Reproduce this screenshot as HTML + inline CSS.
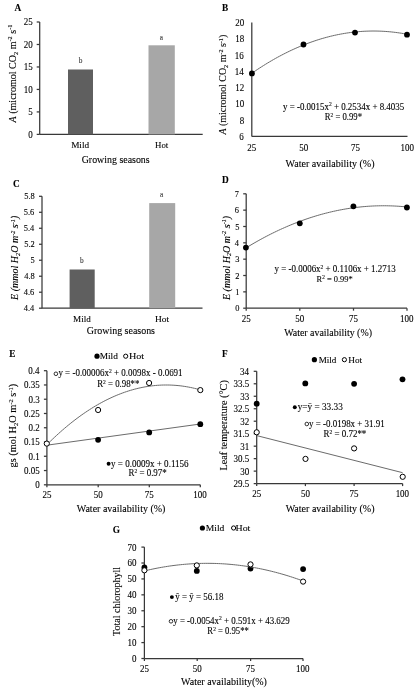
<!DOCTYPE html>
<html><head><meta charset="utf-8"><style>
html,body{margin:0;padding:0;background:#fff;width:418px;height:691px;overflow:hidden}
svg{display:block}
</style></head><body><svg width="418" height="691" viewBox="0 0 418 691"><defs><filter id="bl" x="0" y="0" width="100%" height="100%" filterUnits="userSpaceOnUse"><feGaussianBlur stdDeviation="0.3"/></filter></defs><g filter="url(#bl)"><rect x="0" y="0" width="418" height="691" fill="#fff"/><line x1="39.70" y1="22.00" x2="39.70" y2="134.40" stroke="#383838" stroke-width="1.25"/><line x1="36.70" y1="22.00" x2="39.70" y2="22.00" stroke="#383838" stroke-width="1.25"/><line x1="36.70" y1="44.48" x2="39.70" y2="44.48" stroke="#383838" stroke-width="1.25"/><line x1="36.70" y1="66.96" x2="39.70" y2="66.96" stroke="#383838" stroke-width="1.25"/><line x1="36.70" y1="89.44" x2="39.70" y2="89.44" stroke="#383838" stroke-width="1.25"/><line x1="36.70" y1="111.92" x2="39.70" y2="111.92" stroke="#383838" stroke-width="1.25"/><line x1="36.70" y1="134.40" x2="39.70" y2="134.40" stroke="#383838" stroke-width="1.25"/><line x1="39.70" y1="134.40" x2="202.70" y2="134.40" stroke="#383838" stroke-width="1.25"/><rect x="68.00" y="69.50" width="25.00" height="64.90" fill="#5e5e5e"/><rect x="148.50" y="45.30" width="26.30" height="89.10" fill="#a7a7a7"/><line x1="251.80" y1="22.60" x2="251.80" y2="136.40" stroke="#383838" stroke-width="1.25"/><line x1="251.80" y1="136.40" x2="407.50" y2="136.40" stroke="#383838" stroke-width="1.25"/><path d="M251.80,73.29 L253.77,71.94 L255.74,70.60 L257.71,69.29 L259.68,67.99 L261.65,66.73 L263.63,65.48 L265.60,64.25 L267.57,63.05 L269.54,61.87 L271.51,60.71 L273.48,59.57 L275.45,58.46 L277.42,57.37 L279.39,56.30 L281.36,55.25 L283.33,54.22 L285.31,53.22 L287.28,52.24 L289.25,51.28 L291.22,50.34 L293.19,49.43 L295.16,48.54 L297.13,47.67 L299.10,46.82 L301.07,45.99 L303.04,45.19 L305.01,44.41 L306.98,43.65 L308.96,42.91 L310.93,42.20 L312.90,41.50 L314.87,40.83 L316.84,40.18 L318.81,39.56 L320.78,38.95 L322.75,38.37 L324.72,37.81 L326.69,37.27 L328.66,36.76 L330.64,36.26 L332.61,35.79 L334.58,35.34 L336.55,34.92 L338.52,34.51 L340.49,34.13 L342.46,33.77 L344.43,33.43 L346.40,33.12 L348.37,32.82 L350.34,32.55 L352.32,32.30 L354.29,32.07 L356.26,31.87 L358.23,31.69 L360.20,31.53 L362.17,31.39 L364.14,31.27 L366.11,31.18 L368.08,31.11 L370.05,31.06 L372.02,31.03 L373.99,31.02 L375.97,31.04 L377.94,31.08 L379.91,31.14 L381.88,31.22 L383.85,31.33 L385.82,31.46 L387.79,31.61 L389.76,31.78 L391.73,31.97 L393.70,32.19 L395.67,32.43 L397.65,32.69 L399.62,32.97 L401.59,33.28 L403.56,33.60 L405.53,33.95 L407.50,34.33" fill="none" stroke="#6b6b6b" stroke-width="1.0"/><circle cx="251.90" cy="73.40" r="2.9" fill="#000"/><circle cx="303.50" cy="44.50" r="2.9" fill="#000"/><circle cx="355.00" cy="32.60" r="2.9" fill="#000"/><circle cx="407.00" cy="34.70" r="2.9" fill="#000"/><line x1="42.00" y1="196.30" x2="42.00" y2="308.20" stroke="#383838" stroke-width="1.25"/><line x1="39.00" y1="196.30" x2="42.00" y2="196.30" stroke="#383838" stroke-width="1.25"/><line x1="39.00" y1="212.29" x2="42.00" y2="212.29" stroke="#383838" stroke-width="1.25"/><line x1="39.00" y1="228.27" x2="42.00" y2="228.27" stroke="#383838" stroke-width="1.25"/><line x1="39.00" y1="244.26" x2="42.00" y2="244.26" stroke="#383838" stroke-width="1.25"/><line x1="39.00" y1="260.24" x2="42.00" y2="260.24" stroke="#383838" stroke-width="1.25"/><line x1="39.00" y1="276.23" x2="42.00" y2="276.23" stroke="#383838" stroke-width="1.25"/><line x1="39.00" y1="292.21" x2="42.00" y2="292.21" stroke="#383838" stroke-width="1.25"/><line x1="39.00" y1="308.20" x2="42.00" y2="308.20" stroke="#383838" stroke-width="1.25"/><line x1="42.00" y1="308.20" x2="202.50" y2="308.20" stroke="#383838" stroke-width="1.25"/><rect x="69.60" y="269.50" width="25.10" height="38.70" fill="#5e5e5e"/><rect x="149.20" y="203.10" width="26.00" height="105.10" fill="#a7a7a7"/><line x1="246.20" y1="193.80" x2="246.20" y2="308.20" stroke="#383838" stroke-width="1.25"/><line x1="243.20" y1="193.80" x2="246.20" y2="193.80" stroke="#383838" stroke-width="1.25"/><line x1="243.20" y1="210.14" x2="246.20" y2="210.14" stroke="#383838" stroke-width="1.25"/><line x1="243.20" y1="226.49" x2="246.20" y2="226.49" stroke="#383838" stroke-width="1.25"/><line x1="243.20" y1="242.83" x2="246.20" y2="242.83" stroke="#383838" stroke-width="1.25"/><line x1="243.20" y1="259.17" x2="246.20" y2="259.17" stroke="#383838" stroke-width="1.25"/><line x1="243.20" y1="275.51" x2="246.20" y2="275.51" stroke="#383838" stroke-width="1.25"/><line x1="243.20" y1="291.86" x2="246.20" y2="291.86" stroke="#383838" stroke-width="1.25"/><line x1="243.20" y1="308.20" x2="246.20" y2="308.20" stroke="#383838" stroke-width="1.25"/><line x1="246.20" y1="308.20" x2="407.00" y2="308.20" stroke="#383838" stroke-width="1.25"/><line x1="246.20" y1="308.20" x2="246.20" y2="310.70" stroke="#383838" stroke-width="1.25"/><line x1="299.80" y1="308.20" x2="299.80" y2="310.70" stroke="#383838" stroke-width="1.25"/><line x1="353.50" y1="308.20" x2="353.50" y2="310.70" stroke="#383838" stroke-width="1.25"/><line x1="407.00" y1="308.20" x2="407.00" y2="310.70" stroke="#383838" stroke-width="1.25"/><path d="M245.90,247.96 L247.94,246.72 L249.98,245.50 L252.02,244.30 L254.06,243.11 L256.10,241.94 L258.14,240.80 L260.17,239.67 L262.21,238.55 L264.25,237.46 L266.29,236.39 L268.33,235.33 L270.37,234.29 L272.41,233.28 L274.45,232.28 L276.49,231.29 L278.53,230.33 L280.57,229.39 L282.61,228.46 L284.65,227.55 L286.68,226.66 L288.72,225.79 L290.76,224.94 L292.80,224.11 L294.84,223.29 L296.88,222.49 L298.92,221.72 L300.96,220.96 L303.00,220.22 L305.04,219.49 L307.08,218.79 L309.12,218.10 L311.16,217.44 L313.19,216.79 L315.23,216.16 L317.27,215.55 L319.31,214.95 L321.35,214.38 L323.39,213.82 L325.43,213.29 L327.47,212.77 L329.51,212.27 L331.55,211.79 L333.59,211.32 L335.63,210.88 L337.67,210.45 L339.71,210.04 L341.74,209.66 L343.78,209.29 L345.82,208.93 L347.86,208.60 L349.90,208.28 L351.94,207.99 L353.98,207.71 L356.02,207.45 L358.06,207.21 L360.10,206.99 L362.14,206.78 L364.18,206.60 L366.22,206.43 L368.25,206.28 L370.29,206.15 L372.33,206.04 L374.37,205.95 L376.41,205.87 L378.45,205.82 L380.49,205.78 L382.53,205.76 L384.57,205.76 L386.61,205.78 L388.65,205.82 L390.69,205.87 L392.73,205.95 L394.76,206.04 L396.80,206.15 L398.84,206.28 L400.88,206.43 L402.92,206.59 L404.96,206.78 L407.00,206.98" fill="none" stroke="#6b6b6b" stroke-width="1.0"/><circle cx="245.90" cy="247.60" r="2.9" fill="#000"/><circle cx="299.80" cy="223.30" r="2.9" fill="#000"/><circle cx="353.40" cy="206.30" r="2.9" fill="#000"/><circle cx="406.90" cy="207.50" r="2.9" fill="#000"/><line x1="46.90" y1="370.70" x2="46.90" y2="484.80" stroke="#383838" stroke-width="1.25"/><line x1="43.90" y1="370.70" x2="46.90" y2="370.70" stroke="#383838" stroke-width="1.25"/><line x1="43.90" y1="384.96" x2="46.90" y2="384.96" stroke="#383838" stroke-width="1.25"/><line x1="43.90" y1="399.23" x2="46.90" y2="399.23" stroke="#383838" stroke-width="1.25"/><line x1="43.90" y1="413.49" x2="46.90" y2="413.49" stroke="#383838" stroke-width="1.25"/><line x1="43.90" y1="427.75" x2="46.90" y2="427.75" stroke="#383838" stroke-width="1.25"/><line x1="43.90" y1="442.01" x2="46.90" y2="442.01" stroke="#383838" stroke-width="1.25"/><line x1="43.90" y1="456.27" x2="46.90" y2="456.27" stroke="#383838" stroke-width="1.25"/><line x1="43.90" y1="470.54" x2="46.90" y2="470.54" stroke="#383838" stroke-width="1.25"/><line x1="43.90" y1="484.80" x2="46.90" y2="484.80" stroke="#383838" stroke-width="1.25"/><line x1="46.90" y1="484.80" x2="200.30" y2="484.80" stroke="#383838" stroke-width="1.25"/><line x1="46.90" y1="484.80" x2="46.90" y2="487.30" stroke="#383838" stroke-width="1.25"/><line x1="98.20" y1="484.80" x2="98.20" y2="487.30" stroke="#383838" stroke-width="1.25"/><line x1="149.30" y1="484.80" x2="149.30" y2="487.30" stroke="#383838" stroke-width="1.25"/><line x1="200.30" y1="484.80" x2="200.30" y2="487.30" stroke="#383838" stroke-width="1.25"/><circle cx="97.00" cy="356.20" r="2.6" fill="#000"/><circle cx="125.70" cy="356.20" r="2.1" fill="#fff" stroke="#000" stroke-width="1.0"/><path d="M46.90,445.20 L200.30,424.00" fill="none" stroke="#6b6b6b" stroke-width="1.0"/><circle cx="98.10" cy="439.80" r="2.9" fill="#000"/><circle cx="149.20" cy="432.40" r="2.9" fill="#000"/><circle cx="200.30" cy="424.20" r="2.9" fill="#000"/><path d="M46.90,444.68 L48.84,442.75 L50.78,440.86 L52.73,438.99 L54.67,437.16 L56.61,435.36 L58.55,433.60 L60.49,431.86 L62.43,430.15 L64.38,428.48 L66.32,426.84 L68.26,425.23 L70.20,423.65 L72.14,422.10 L74.08,420.59 L76.03,419.10 L77.97,417.65 L79.91,416.23 L81.85,414.84 L83.79,413.48 L85.74,412.16 L87.68,410.86 L89.62,409.60 L91.56,408.37 L93.50,407.17 L95.44,406.00 L97.39,404.87 L99.33,403.76 L101.27,402.69 L103.21,401.65 L105.15,400.64 L107.09,399.66 L109.04,398.71 L110.98,397.80 L112.92,396.91 L114.86,396.06 L116.80,395.24 L118.75,394.45 L120.69,393.69 L122.63,392.97 L124.57,392.28 L126.51,391.61 L128.45,390.98 L130.40,390.38 L132.34,389.82 L134.28,389.28 L136.22,388.78 L138.16,388.30 L140.11,387.86 L142.05,387.45 L143.99,387.07 L145.93,386.73 L147.87,386.41 L149.81,386.13 L151.76,385.88 L153.70,385.66 L155.64,385.47 L157.58,385.31 L159.52,385.19 L161.46,385.09 L163.41,385.03 L165.35,385.00 L167.29,385.00 L169.23,385.03 L171.17,385.10 L173.12,385.19 L175.06,385.32 L177.00,385.48 L178.94,385.67 L180.88,385.89 L182.82,386.15 L184.77,386.43 L186.71,386.75 L188.65,387.10 L190.59,387.48 L192.53,387.89 L194.47,388.34 L196.42,388.81 L198.36,389.32 L200.30,389.86" fill="none" stroke="#6b6b6b" stroke-width="1.0"/><circle cx="46.80" cy="443.60" r="2.6" fill="#fff" stroke="#000" stroke-width="1.0"/><circle cx="98.10" cy="410.00" r="2.6" fill="#fff" stroke="#000" stroke-width="1.0"/><circle cx="149.10" cy="383.00" r="2.6" fill="#fff" stroke="#000" stroke-width="1.0"/><circle cx="200.30" cy="390.10" r="2.6" fill="#fff" stroke="#000" stroke-width="1.0"/><circle cx="55.90" cy="373.80" r="1.8" fill="#fff" stroke="#000" stroke-width="0.8"/><circle cx="108.60" cy="463.80" r="1.95" fill="#000"/><line x1="256.70" y1="371.30" x2="256.70" y2="483.60" stroke="#383838" stroke-width="1.25"/><line x1="253.70" y1="371.30" x2="256.70" y2="371.30" stroke="#383838" stroke-width="1.25"/><line x1="253.70" y1="383.78" x2="256.70" y2="383.78" stroke="#383838" stroke-width="1.25"/><line x1="253.70" y1="396.26" x2="256.70" y2="396.26" stroke="#383838" stroke-width="1.25"/><line x1="253.70" y1="408.73" x2="256.70" y2="408.73" stroke="#383838" stroke-width="1.25"/><line x1="253.70" y1="421.21" x2="256.70" y2="421.21" stroke="#383838" stroke-width="1.25"/><line x1="253.70" y1="433.69" x2="256.70" y2="433.69" stroke="#383838" stroke-width="1.25"/><line x1="253.70" y1="446.17" x2="256.70" y2="446.17" stroke="#383838" stroke-width="1.25"/><line x1="253.70" y1="458.64" x2="256.70" y2="458.64" stroke="#383838" stroke-width="1.25"/><line x1="253.70" y1="471.12" x2="256.70" y2="471.12" stroke="#383838" stroke-width="1.25"/><line x1="253.70" y1="483.60" x2="256.70" y2="483.60" stroke="#383838" stroke-width="1.25"/><line x1="256.70" y1="483.60" x2="402.60" y2="483.60" stroke="#383838" stroke-width="1.25"/><line x1="256.70" y1="483.60" x2="256.70" y2="486.10" stroke="#383838" stroke-width="1.25"/><line x1="305.40" y1="483.60" x2="305.40" y2="486.10" stroke="#383838" stroke-width="1.25"/><line x1="354.10" y1="483.60" x2="354.10" y2="486.10" stroke="#383838" stroke-width="1.25"/><line x1="402.60" y1="483.60" x2="402.60" y2="486.10" stroke="#383838" stroke-width="1.25"/><circle cx="314.40" cy="359.70" r="2.6" fill="#000"/><circle cx="344.40" cy="359.70" r="2.1" fill="#fff" stroke="#000" stroke-width="1.0"/><circle cx="256.70" cy="403.70" r="2.9" fill="#000"/><circle cx="305.30" cy="383.40" r="2.9" fill="#000"/><circle cx="354.10" cy="383.80" r="2.9" fill="#000"/><circle cx="402.50" cy="379.30" r="2.9" fill="#000"/><path d="M256.70,435.60 L402.60,472.70" fill="none" stroke="#6b6b6b" stroke-width="1.0"/><circle cx="256.70" cy="432.30" r="2.6" fill="#fff" stroke="#000" stroke-width="1.0"/><circle cx="305.50" cy="458.90" r="2.6" fill="#fff" stroke="#000" stroke-width="1.0"/><circle cx="354.10" cy="448.40" r="2.6" fill="#fff" stroke="#000" stroke-width="1.0"/><circle cx="402.70" cy="476.80" r="2.6" fill="#fff" stroke="#000" stroke-width="1.0"/><circle cx="294.80" cy="407.30" r="1.95" fill="#000"/><circle cx="306.80" cy="424.00" r="1.8" fill="#fff" stroke="#000" stroke-width="0.8"/><line x1="144.40" y1="547.10" x2="144.40" y2="658.50" stroke="#383838" stroke-width="1.25"/><line x1="141.40" y1="547.10" x2="144.40" y2="547.10" stroke="#383838" stroke-width="1.25"/><line x1="141.40" y1="563.01" x2="144.40" y2="563.01" stroke="#383838" stroke-width="1.25"/><line x1="141.40" y1="578.93" x2="144.40" y2="578.93" stroke="#383838" stroke-width="1.25"/><line x1="141.40" y1="594.84" x2="144.40" y2="594.84" stroke="#383838" stroke-width="1.25"/><line x1="141.40" y1="610.76" x2="144.40" y2="610.76" stroke="#383838" stroke-width="1.25"/><line x1="141.40" y1="626.67" x2="144.40" y2="626.67" stroke="#383838" stroke-width="1.25"/><line x1="141.40" y1="642.59" x2="144.40" y2="642.59" stroke="#383838" stroke-width="1.25"/><line x1="141.40" y1="658.50" x2="144.40" y2="658.50" stroke="#383838" stroke-width="1.25"/><line x1="144.40" y1="658.50" x2="303.00" y2="658.50" stroke="#383838" stroke-width="1.25"/><line x1="144.40" y1="658.50" x2="144.40" y2="661.00" stroke="#383838" stroke-width="1.25"/><line x1="197.20" y1="658.50" x2="197.20" y2="661.00" stroke="#383838" stroke-width="1.25"/><line x1="250.60" y1="658.50" x2="250.60" y2="661.00" stroke="#383838" stroke-width="1.25"/><line x1="303.00" y1="658.50" x2="303.00" y2="661.00" stroke="#383838" stroke-width="1.25"/><circle cx="202.40" cy="528.00" r="2.6" fill="#000"/><circle cx="233.60" cy="528.00" r="2.1" fill="#fff" stroke="#000" stroke-width="1.0"/><circle cx="144.40" cy="567.40" r="2.9" fill="#000"/><circle cx="196.80" cy="570.90" r="2.9" fill="#000"/><circle cx="250.50" cy="568.60" r="2.9" fill="#000"/><circle cx="303.10" cy="569.10" r="2.9" fill="#000"/><path d="M144.40,570.93 L146.51,570.42 L148.63,569.94 L150.74,569.47 L152.86,569.02 L154.97,568.59 L157.09,568.17 L159.20,567.77 L161.32,567.39 L163.43,567.02 L165.55,566.68 L167.66,566.35 L169.78,566.03 L171.89,565.74 L174.01,565.46 L176.12,565.20 L178.23,564.95 L180.35,564.72 L182.46,564.51 L184.58,564.32 L186.69,564.15 L188.81,563.99 L190.92,563.85 L193.04,563.72 L195.15,563.61 L197.27,563.53 L199.38,563.45 L201.50,563.40 L203.61,563.36 L205.73,563.34 L207.84,563.33 L209.95,563.35 L212.07,563.38 L214.18,563.43 L216.30,563.49 L218.41,563.57 L220.53,563.67 L222.64,563.79 L224.76,563.92 L226.87,564.07 L228.99,564.24 L231.10,564.43 L233.22,564.63 L235.33,564.85 L237.45,565.09 L239.56,565.34 L241.67,565.61 L243.79,565.90 L245.90,566.20 L248.02,566.53 L250.13,566.87 L252.25,567.22 L254.36,567.60 L256.48,567.99 L258.59,568.40 L260.71,568.82 L262.82,569.27 L264.94,569.73 L267.05,570.21 L269.17,570.70 L271.28,571.21 L273.39,571.74 L275.51,572.29 L277.62,572.85 L279.74,573.43 L281.85,574.03 L283.97,574.64 L286.08,575.28 L288.20,575.92 L290.31,576.59 L292.43,577.28 L294.54,577.98 L296.66,578.69 L298.77,579.43 L300.89,580.18 L303.00,580.95" fill="none" stroke="#6b6b6b" stroke-width="1.0"/><circle cx="144.40" cy="570.30" r="2.6" fill="#fff" stroke="#000" stroke-width="1.0"/><circle cx="196.80" cy="565.40" r="2.6" fill="#fff" stroke="#000" stroke-width="1.0"/><circle cx="250.50" cy="564.40" r="2.6" fill="#fff" stroke="#000" stroke-width="1.0"/><circle cx="303.10" cy="581.60" r="2.6" fill="#fff" stroke="#000" stroke-width="1.0"/><circle cx="171.90" cy="597.10" r="1.95" fill="#000"/><circle cx="171.00" cy="621.30" r="1.8" fill="#fff" stroke="#000" stroke-width="0.8"/><text x="14.400" y="10.500" font-family='"Liberation Serif", serif' font-size="9.300" font-weight="bold" fill="#000" stroke="#000" stroke-width="0.1"><tspan font-size="9.300">A</tspan></text><g transform="translate(23.650,25.402) scale(1.0000,1.0800)"><text x="0.000" y="0.000" font-family='"Liberation Serif", serif' font-size="9.000" fill="#000" stroke="#000" stroke-width="0.1"><tspan font-size="9.000">25</tspan></text></g><g transform="translate(23.650,47.882) scale(1.0000,1.0800)"><text x="0.000" y="0.000" font-family='"Liberation Serif", serif' font-size="9.000" fill="#000" stroke="#000" stroke-width="0.1"><tspan font-size="9.000">20</tspan></text></g><g transform="translate(23.650,70.362) scale(1.0000,1.0800)"><text x="0.000" y="0.000" font-family='"Liberation Serif", serif' font-size="9.000" fill="#000" stroke="#000" stroke-width="0.1"><tspan font-size="9.000">15</tspan></text></g><g transform="translate(23.650,92.842) scale(1.0000,1.0800)"><text x="0.000" y="0.000" font-family='"Liberation Serif", serif' font-size="9.000" fill="#000" stroke="#000" stroke-width="0.1"><tspan font-size="9.000">10</tspan></text></g><g transform="translate(28.150,115.322) scale(1.0000,1.0800)"><text x="0.000" y="0.000" font-family='"Liberation Serif", serif' font-size="9.000" fill="#000" stroke="#000" stroke-width="0.1"><tspan font-size="9.000">5</tspan></text></g><g transform="translate(28.150,137.802) scale(1.0000,1.0800)"><text x="0.000" y="0.000" font-family='"Liberation Serif", serif' font-size="9.000" fill="#000" stroke="#000" stroke-width="0.1"><tspan font-size="9.000">0</tspan></text></g><text x="78.775" y="63.000" font-family='"Liberation Serif", serif' font-size="7.300" fill="#3a3a3a" stroke="#3a3a3a" stroke-width="0.1"><tspan font-size="7.300">b</tspan></text><text x="159.757" y="39.600" font-family='"Liberation Serif", serif' font-size="7.300" fill="#3a3a3a" stroke="#3a3a3a" stroke-width="0.1"><tspan font-size="7.300">a</tspan></text><g transform="translate(71.137,148.000) scale(1.0408,1.0000)"><text x="0.000" y="0.000" font-family='"Liberation Serif", serif' font-size="8.900" fill="#000" stroke="#000" stroke-width="0.1"><tspan font-size="8.900">Mild</tspan></text></g><g transform="translate(155.059,148.000) scale(0.9919,1.0000)"><text x="0.000" y="0.000" font-family='"Liberation Serif", serif' font-size="8.900" fill="#000" stroke="#000" stroke-width="0.1"><tspan font-size="8.900">Hot</tspan></text></g><text x="81.704" y="163.300" font-family='"Liberation Serif", serif' font-size="9.926" fill="#000" stroke="#000" stroke-width="0.1"><tspan font-size="9.926">Growing seasons</tspan></text><text x="0" y="0" transform="translate(15.600,122.497) rotate(-90) scale(1,1.120)" font-family='"Liberation Serif", serif' font-size="10.062" fill="#000" stroke="#000" stroke-width="0.1"><tspan font-size="10.062" font-style="italic">A</tspan><tspan font-size="10.062"> (micromol CO</tspan><tspan font-size="6.238" dy="1.811">2</tspan><tspan font-size="10.062" dy="-1.811"> m</tspan><tspan font-size="6.238" dy="-3.320">-2</tspan><tspan font-size="10.062" dy="3.320"> s</tspan><tspan font-size="6.238" dy="-3.320">-1</tspan></text><text x="222.000" y="10.900" font-family='"Liberation Serif", serif' font-size="9.300" font-weight="bold" fill="#000" stroke="#000" stroke-width="0.1"><tspan font-size="9.300">B</tspan></text><g transform="translate(235.250,26.002) scale(1.0000,1.0800)"><text x="0.000" y="0.000" font-family='"Liberation Serif", serif' font-size="9.000" fill="#000" stroke="#000" stroke-width="0.1"><tspan font-size="9.000">20</tspan></text></g><g transform="translate(235.250,42.259) scale(1.0000,1.0800)"><text x="0.000" y="0.000" font-family='"Liberation Serif", serif' font-size="9.000" fill="#000" stroke="#000" stroke-width="0.1"><tspan font-size="9.000">18</tspan></text></g><g transform="translate(234.800,58.516) scale(1.0000,1.0800)"><text x="0.000" y="0.000" font-family='"Liberation Serif", serif' font-size="9.000" fill="#000" stroke="#000" stroke-width="0.1"><tspan font-size="9.000">16</tspan></text></g><g transform="translate(234.800,74.773) scale(1.0000,1.0800)"><text x="0.000" y="0.000" font-family='"Liberation Serif", serif' font-size="9.000" fill="#000" stroke="#000" stroke-width="0.1"><tspan font-size="9.000">14</tspan></text></g><g transform="translate(235.250,91.031) scale(1.0000,1.0800)"><text x="0.000" y="0.000" font-family='"Liberation Serif", serif' font-size="9.000" fill="#000" stroke="#000" stroke-width="0.1"><tspan font-size="9.000">12</tspan></text></g><g transform="translate(235.250,107.288) scale(1.0000,1.0800)"><text x="0.000" y="0.000" font-family='"Liberation Serif", serif' font-size="9.000" fill="#000" stroke="#000" stroke-width="0.1"><tspan font-size="9.000">10</tspan></text></g><g transform="translate(239.750,123.545) scale(1.0000,1.0800)"><text x="0.000" y="0.000" font-family='"Liberation Serif", serif' font-size="9.000" fill="#000" stroke="#000" stroke-width="0.1"><tspan font-size="9.000">8</tspan></text></g><g transform="translate(239.300,139.802) scale(1.0000,1.0800)"><text x="0.000" y="0.000" font-family='"Liberation Serif", serif' font-size="9.000" fill="#000" stroke="#000" stroke-width="0.1"><tspan font-size="9.000">6</tspan></text></g><g transform="translate(247.300,151.002) scale(1.0000,1.0800)"><text x="0.000" y="0.000" font-family='"Liberation Serif", serif' font-size="9.000" fill="#000" stroke="#000" stroke-width="0.1"><tspan font-size="9.000">25</tspan></text></g><g transform="translate(299.200,151.002) scale(1.0000,1.0800)"><text x="0.000" y="0.000" font-family='"Liberation Serif", serif' font-size="9.000" fill="#000" stroke="#000" stroke-width="0.1"><tspan font-size="9.000">50</tspan></text></g><g transform="translate(351.100,151.002) scale(1.0000,1.0800)"><text x="0.000" y="0.000" font-family='"Liberation Serif", serif' font-size="9.000" fill="#000" stroke="#000" stroke-width="0.1"><tspan font-size="9.000">75</tspan></text></g><g transform="translate(400.525,151.002) scale(1.0000,1.0800)"><text x="0.000" y="0.000" font-family='"Liberation Serif", serif' font-size="9.000" fill="#000" stroke="#000" stroke-width="0.1"><tspan font-size="9.000">100</tspan></text></g><text x="285.500" y="166.500" font-family='"Liberation Serif", serif' font-size="10.057" fill="#000" stroke="#000" stroke-width="0.1"><tspan font-size="10.057">Water availability (%)</tspan></text><g transform="translate(283.000,109.700) scale(1.0000,1.1000)"><text x="0.000" y="0.000" font-family='"Liberation Serif", serif' font-size="8.930" fill="#000" stroke="#000" stroke-width="0.1"><tspan font-size="8.930">y = -0.0015x</tspan><tspan font-size="5.537" dy="-2.947">2</tspan><tspan font-size="8.930" dy="2.947"> + 0.2534x + 8.4035</tspan></text></g><g transform="translate(324.765,119.800) scale(1.0000,1.1000)"><text x="0.000" y="0.000" font-family='"Liberation Serif", serif' font-size="8.690" fill="#000" stroke="#000" stroke-width="0.1"><tspan font-size="8.690">R</tspan><tspan font-size="5.388" dy="-2.868">2</tspan><tspan font-size="8.690" dy="2.868"> = 0.99*</tspan></text></g><text x="0" y="0" transform="translate(226.300,134.504) rotate(-90)" font-family='"Liberation Serif", serif' font-size="9.921" fill="#000" stroke="#000" stroke-width="0.1"><tspan font-size="9.921" font-style="italic">A</tspan><tspan font-size="9.921"> (micromol CO</tspan><tspan font-size="6.151" dy="1.786">2</tspan><tspan font-size="9.921" dy="-1.786"> m</tspan><tspan font-size="6.151" dy="-3.274">-2</tspan><tspan font-size="9.921" dy="3.274"> s</tspan><tspan font-size="6.151" dy="-3.274">-1</tspan><tspan font-size="9.921" dy="3.274">)</tspan></text><text x="12.935" y="187.100" font-family='"Liberation Serif", serif' font-size="9.300" font-weight="bold" fill="#000" stroke="#000" stroke-width="0.1"><tspan font-size="9.300">C</tspan></text><g transform="translate(24.220,199.475) scale(1.0000,1.0800)"><text x="0.000" y="0.000" font-family='"Liberation Serif", serif' font-size="8.400" fill="#000" stroke="#000" stroke-width="0.1"><tspan font-size="8.400">5.8</tspan></text></g><g transform="translate(23.800,215.461) scale(1.0000,1.0800)"><text x="0.000" y="0.000" font-family='"Liberation Serif", serif' font-size="8.400" fill="#000" stroke="#000" stroke-width="0.1"><tspan font-size="8.400">5.6</tspan></text></g><g transform="translate(23.800,231.447) scale(1.0000,1.0800)"><text x="0.000" y="0.000" font-family='"Liberation Serif", serif' font-size="8.400" fill="#000" stroke="#000" stroke-width="0.1"><tspan font-size="8.400">5.4</tspan></text></g><g transform="translate(24.220,247.432) scale(1.0000,1.0800)"><text x="0.000" y="0.000" font-family='"Liberation Serif", serif' font-size="8.400" fill="#000" stroke="#000" stroke-width="0.1"><tspan font-size="8.400">5.2</tspan></text></g><g transform="translate(30.520,263.418) scale(1.0000,1.0800)"><text x="0.000" y="0.000" font-family='"Liberation Serif", serif' font-size="8.400" fill="#000" stroke="#000" stroke-width="0.1"><tspan font-size="8.400">5</tspan></text></g><g transform="translate(24.220,279.404) scale(1.0000,1.0800)"><text x="0.000" y="0.000" font-family='"Liberation Serif", serif' font-size="8.400" fill="#000" stroke="#000" stroke-width="0.1"><tspan font-size="8.400">4.8</tspan></text></g><g transform="translate(23.800,295.389) scale(1.0000,1.0800)"><text x="0.000" y="0.000" font-family='"Liberation Serif", serif' font-size="8.400" fill="#000" stroke="#000" stroke-width="0.1"><tspan font-size="8.400">4.6</tspan></text></g><g transform="translate(23.800,311.375) scale(1.0000,1.0800)"><text x="0.000" y="0.000" font-family='"Liberation Serif", serif' font-size="8.400" fill="#000" stroke="#000" stroke-width="0.1"><tspan font-size="8.400">4.4</tspan></text></g><text x="79.975" y="262.500" font-family='"Liberation Serif", serif' font-size="7.300" fill="#3a3a3a" stroke="#3a3a3a" stroke-width="0.1"><tspan font-size="7.300">b</tspan></text><text x="160.057" y="197.200" font-family='"Liberation Serif", serif' font-size="7.300" fill="#3a3a3a" stroke="#3a3a3a" stroke-width="0.1"><tspan font-size="7.300">a</tspan></text><g transform="translate(73.045,322.000) scale(1.0231,1.0000)"><text x="0.000" y="0.000" font-family='"Liberation Serif", serif' font-size="8.900" fill="#000" stroke="#000" stroke-width="0.1"><tspan font-size="8.900">Mild</tspan></text></g><g transform="translate(155.028,322.000) scale(1.0616,1.0000)"><text x="0.000" y="0.000" font-family='"Liberation Serif", serif' font-size="8.900" fill="#000" stroke="#000" stroke-width="0.1"><tspan font-size="8.900">Hot</tspan></text></g><text x="86.803" y="333.500" font-family='"Liberation Serif", serif' font-size="9.941" fill="#000" stroke="#000" stroke-width="0.1"><tspan font-size="9.941">Growing seasons</tspan></text><text x="0" y="0" transform="translate(18.400,300.000) rotate(-90)" font-family='"Liberation Serif", serif' font-size="10.048" font-style="italic" fill="#000" stroke="#000" stroke-width="0.1"><tspan font-size="10.048">E (mmol H</tspan><tspan font-size="6.230" dy="1.809">2</tspan><tspan font-size="10.048" dy="-1.809">O m</tspan><tspan font-size="6.230" dy="-3.316">-2</tspan><tspan font-size="10.048" dy="3.316"> s</tspan><tspan font-size="6.230" dy="-3.316">-1</tspan><tspan font-size="10.048" dy="3.316">)</tspan></text><text x="222.000" y="183.400" font-family='"Liberation Serif", serif' font-size="9.300" font-weight="bold" fill="#000" stroke="#000" stroke-width="0.1"><tspan font-size="9.300">D</tspan></text><g transform="translate(234.800,196.975) scale(1.0000,1.0800)"><text x="0.000" y="0.000" font-family='"Liberation Serif", serif' font-size="8.400" fill="#000" stroke="#000" stroke-width="0.1"><tspan font-size="8.400">7</tspan></text></g><g transform="translate(234.800,213.318) scale(1.0000,1.0800)"><text x="0.000" y="0.000" font-family='"Liberation Serif", serif' font-size="8.400" fill="#000" stroke="#000" stroke-width="0.1"><tspan font-size="8.400">6</tspan></text></g><g transform="translate(235.220,229.661) scale(1.0000,1.0800)"><text x="0.000" y="0.000" font-family='"Liberation Serif", serif' font-size="8.400" fill="#000" stroke="#000" stroke-width="0.1"><tspan font-size="8.400">5</tspan></text></g><g transform="translate(234.800,246.004) scale(1.0000,1.0800)"><text x="0.000" y="0.000" font-family='"Liberation Serif", serif' font-size="8.400" fill="#000" stroke="#000" stroke-width="0.1"><tspan font-size="8.400">4</tspan></text></g><g transform="translate(235.220,262.347) scale(1.0000,1.0800)"><text x="0.000" y="0.000" font-family='"Liberation Serif", serif' font-size="8.400" fill="#000" stroke="#000" stroke-width="0.1"><tspan font-size="8.400">3</tspan></text></g><g transform="translate(235.220,278.689) scale(1.0000,1.0800)"><text x="0.000" y="0.000" font-family='"Liberation Serif", serif' font-size="8.400" fill="#000" stroke="#000" stroke-width="0.1"><tspan font-size="8.400">2</tspan></text></g><g transform="translate(235.220,295.032) scale(1.0000,1.0800)"><text x="0.000" y="0.000" font-family='"Liberation Serif", serif' font-size="8.400" fill="#000" stroke="#000" stroke-width="0.1"><tspan font-size="8.400">1</tspan></text></g><g transform="translate(235.220,311.375) scale(1.0000,1.0800)"><text x="0.000" y="0.000" font-family='"Liberation Serif", serif' font-size="8.400" fill="#000" stroke="#000" stroke-width="0.1"><tspan font-size="8.400">0</tspan></text></g><g transform="translate(241.700,321.902) scale(1.0000,1.0800)"><text x="0.000" y="0.000" font-family='"Liberation Serif", serif' font-size="9.000" fill="#000" stroke="#000" stroke-width="0.1"><tspan font-size="9.000">25</tspan></text></g><g transform="translate(295.300,321.902) scale(1.0000,1.0800)"><text x="0.000" y="0.000" font-family='"Liberation Serif", serif' font-size="9.000" fill="#000" stroke="#000" stroke-width="0.1"><tspan font-size="9.000">50</tspan></text></g><g transform="translate(349.000,321.902) scale(1.0000,1.0800)"><text x="0.000" y="0.000" font-family='"Liberation Serif", serif' font-size="9.000" fill="#000" stroke="#000" stroke-width="0.1"><tspan font-size="9.000">75</tspan></text></g><g transform="translate(400.025,321.902) scale(1.0000,1.0800)"><text x="0.000" y="0.000" font-family='"Liberation Serif", serif' font-size="9.000" fill="#000" stroke="#000" stroke-width="0.1"><tspan font-size="9.000">100</tspan></text></g><text x="284.200" y="336.000" font-family='"Liberation Serif", serif' font-size="9.920" fill="#000" stroke="#000" stroke-width="0.1"><tspan font-size="9.920">Water availability (%)</tspan></text><g transform="translate(274.600,272.000) scale(1.0000,1.1000)"><text x="0.000" y="0.000" font-family='"Liberation Serif", serif' font-size="8.948" fill="#000" stroke="#000" stroke-width="0.1"><tspan font-size="8.948">y = -0.0006x</tspan><tspan font-size="5.548" dy="-2.953">2</tspan><tspan font-size="8.948" dy="2.953"> + 0.1106x + 1.2713</tspan></text></g><g transform="translate(316.579,282.400) scale(1.0000,1.1000)"><text x="0.000" y="0.000" font-family='"Liberation Serif", serif' font-size="8.429" fill="#000" stroke="#000" stroke-width="0.1"><tspan font-size="8.429">R</tspan><tspan font-size="5.226" dy="-2.781">2</tspan><tspan font-size="8.429" dy="2.781"> = 0.99*</tspan></text></g><text x="0" y="0" transform="translate(229.500,300.000) rotate(-90)" font-family='"Liberation Serif", serif' font-size="10.036" font-style="italic" fill="#000" stroke="#000" stroke-width="0.1"><tspan font-size="10.036">E (mmol H</tspan><tspan font-size="6.222" dy="1.806">2</tspan><tspan font-size="10.036" dy="-1.806">O m</tspan><tspan font-size="6.222" dy="-3.312">-2</tspan><tspan font-size="10.036" dy="3.312"> s</tspan><tspan font-size="6.222" dy="-3.312">-1</tspan><tspan font-size="10.036" dy="3.312">)</tspan></text><text x="9.200" y="357.100" font-family='"Liberation Serif", serif' font-size="9.300" font-weight="bold" fill="#000" stroke="#000" stroke-width="0.1"><tspan font-size="9.300">E</tspan></text><g transform="translate(28.150,374.102) scale(1.0000,1.0800)"><text x="0.000" y="0.000" font-family='"Liberation Serif", serif' font-size="9.000" fill="#000" stroke="#000" stroke-width="0.1"><tspan font-size="9.000">0.4</tspan></text></g><g transform="translate(24.100,388.364) scale(1.0000,1.0800)"><text x="0.000" y="0.000" font-family='"Liberation Serif", serif' font-size="9.000" fill="#000" stroke="#000" stroke-width="0.1"><tspan font-size="9.000">0.35</tspan></text></g><g transform="translate(28.600,402.627) scale(1.0000,1.0800)"><text x="0.000" y="0.000" font-family='"Liberation Serif", serif' font-size="9.000" fill="#000" stroke="#000" stroke-width="0.1"><tspan font-size="9.000">0.3</tspan></text></g><g transform="translate(24.100,416.889) scale(1.0000,1.0800)"><text x="0.000" y="0.000" font-family='"Liberation Serif", serif' font-size="9.000" fill="#000" stroke="#000" stroke-width="0.1"><tspan font-size="9.000">0.25</tspan></text></g><g transform="translate(28.600,431.152) scale(1.0000,1.0800)"><text x="0.000" y="0.000" font-family='"Liberation Serif", serif' font-size="9.000" fill="#000" stroke="#000" stroke-width="0.1"><tspan font-size="9.000">0.2</tspan></text></g><g transform="translate(24.100,445.414) scale(1.0000,1.0800)"><text x="0.000" y="0.000" font-family='"Liberation Serif", serif' font-size="9.000" fill="#000" stroke="#000" stroke-width="0.1"><tspan font-size="9.000">0.15</tspan></text></g><g transform="translate(28.600,459.677) scale(1.0000,1.0800)"><text x="0.000" y="0.000" font-family='"Liberation Serif", serif' font-size="9.000" fill="#000" stroke="#000" stroke-width="0.1"><tspan font-size="9.000">0.1</tspan></text></g><g transform="translate(24.100,473.940) scale(1.0000,1.0800)"><text x="0.000" y="0.000" font-family='"Liberation Serif", serif' font-size="9.000" fill="#000" stroke="#000" stroke-width="0.1"><tspan font-size="9.000">0.05</tspan></text></g><g transform="translate(35.350,488.202) scale(1.0000,1.0800)"><text x="0.000" y="0.000" font-family='"Liberation Serif", serif' font-size="9.000" fill="#000" stroke="#000" stroke-width="0.1"><tspan font-size="9.000">0</tspan></text></g><g transform="translate(42.400,498.402) scale(1.0000,1.0800)"><text x="0.000" y="0.000" font-family='"Liberation Serif", serif' font-size="9.000" fill="#000" stroke="#000" stroke-width="0.1"><tspan font-size="9.000">25</tspan></text></g><g transform="translate(93.700,498.402) scale(1.0000,1.0800)"><text x="0.000" y="0.000" font-family='"Liberation Serif", serif' font-size="9.000" fill="#000" stroke="#000" stroke-width="0.1"><tspan font-size="9.000">50</tspan></text></g><g transform="translate(144.800,498.402) scale(1.0000,1.0800)"><text x="0.000" y="0.000" font-family='"Liberation Serif", serif' font-size="9.000" fill="#000" stroke="#000" stroke-width="0.1"><tspan font-size="9.000">75</tspan></text></g><g transform="translate(193.325,498.402) scale(1.0000,1.0800)"><text x="0.000" y="0.000" font-family='"Liberation Serif", serif' font-size="9.000" fill="#000" stroke="#000" stroke-width="0.1"><tspan font-size="9.000">100</tspan></text></g><text x="76.800" y="512.000" font-family='"Liberation Serif", serif' font-size="10.000" fill="#000" stroke="#000" stroke-width="0.1"><tspan font-size="10.000">Water availability (%)</tspan></text><g transform="translate(99.632,358.600) scale(1.0526,1.0000)"><text x="0.000" y="0.000" font-family='"Liberation Serif", serif' font-size="8.900" fill="#000" stroke="#000" stroke-width="0.1"><tspan font-size="8.900">Mild</tspan></text></g><g transform="translate(128.893,358.600) scale(1.1391,1.0000)"><text x="0.000" y="0.000" font-family='"Liberation Serif", serif' font-size="8.900" fill="#000" stroke="#000" stroke-width="0.1"><tspan font-size="8.900">Hot</tspan></text></g><g transform="translate(58.400,376.300) scale(1.0000,1.1000)"><text x="0.000" y="0.000" font-family='"Liberation Serif", serif' font-size="8.971" fill="#000" stroke="#000" stroke-width="0.1"><tspan font-size="8.971">y = -0.00006x</tspan><tspan font-size="5.562" dy="-2.960">2</tspan><tspan font-size="8.971" dy="2.960"> + 0.0098x - 0.0691</tspan></text></g><g transform="translate(97.159,386.800) scale(1.0000,1.1000)"><text x="0.000" y="0.000" font-family='"Liberation Serif", serif' font-size="8.830" fill="#000" stroke="#000" stroke-width="0.1"><tspan font-size="8.830">R</tspan><tspan font-size="5.474" dy="-2.914">2</tspan><tspan font-size="8.830" dy="2.914"> = 0.98**</tspan></text></g><g transform="translate(111.000,466.800) scale(1.0000,1.1000)"><text x="0.000" y="0.000" font-family='"Liberation Serif", serif' font-size="9.053" fill="#000" stroke="#000" stroke-width="0.1"><tspan font-size="9.053">y = 0.0009x + 0.1156</tspan></text></g><g transform="translate(128.454,475.800) scale(1.0000,1.1000)"><text x="0.000" y="0.000" font-family='"Liberation Serif", serif' font-size="8.929" fill="#000" stroke="#000" stroke-width="0.1"><tspan font-size="8.929">R</tspan><tspan font-size="5.536" dy="-2.946">2</tspan><tspan font-size="8.929" dy="2.946"> = 0.97*</tspan></text></g><text x="0" y="0" transform="translate(16.400,467.519) rotate(-90)" font-family='"Liberation Serif", serif' font-size="10.388" fill="#000" stroke="#000" stroke-width="0.1"><tspan font-size="10.388">gs (mol H</tspan><tspan font-size="6.440" dy="1.870">2</tspan><tspan font-size="10.388" dy="-1.870">O m</tspan><tspan font-size="6.440" dy="-3.428">-2</tspan><tspan font-size="10.388" dy="3.428"> s</tspan><tspan font-size="6.440" dy="-3.428">-1</tspan><tspan font-size="10.388" dy="3.428">)</tspan></text><text x="222.000" y="356.800" font-family='"Liberation Serif", serif' font-size="9.300" font-weight="bold" fill="#000" stroke="#000" stroke-width="0.1"><tspan font-size="9.300">F</tspan></text><g transform="translate(239.900,374.702) scale(1.0000,1.0800)"><text x="0.000" y="0.000" font-family='"Liberation Serif", serif' font-size="9.000" fill="#000" stroke="#000" stroke-width="0.1"><tspan font-size="9.000">34</tspan></text></g><g transform="translate(233.600,387.180) scale(1.0000,1.0800)"><text x="0.000" y="0.000" font-family='"Liberation Serif", serif' font-size="9.000" fill="#000" stroke="#000" stroke-width="0.1"><tspan font-size="9.000">33.5</tspan></text></g><g transform="translate(240.350,399.658) scale(1.0000,1.0800)"><text x="0.000" y="0.000" font-family='"Liberation Serif", serif' font-size="9.000" fill="#000" stroke="#000" stroke-width="0.1"><tspan font-size="9.000">33</tspan></text></g><g transform="translate(233.600,412.135) scale(1.0000,1.0800)"><text x="0.000" y="0.000" font-family='"Liberation Serif", serif' font-size="9.000" fill="#000" stroke="#000" stroke-width="0.1"><tspan font-size="9.000">32.5</tspan></text></g><g transform="translate(240.350,424.613) scale(1.0000,1.0800)"><text x="0.000" y="0.000" font-family='"Liberation Serif", serif' font-size="9.000" fill="#000" stroke="#000" stroke-width="0.1"><tspan font-size="9.000">32</tspan></text></g><g transform="translate(233.600,437.091) scale(1.0000,1.0800)"><text x="0.000" y="0.000" font-family='"Liberation Serif", serif' font-size="9.000" fill="#000" stroke="#000" stroke-width="0.1"><tspan font-size="9.000">31.5</tspan></text></g><g transform="translate(240.350,449.569) scale(1.0000,1.0800)"><text x="0.000" y="0.000" font-family='"Liberation Serif", serif' font-size="9.000" fill="#000" stroke="#000" stroke-width="0.1"><tspan font-size="9.000">31</tspan></text></g><g transform="translate(233.600,462.046) scale(1.0000,1.0800)"><text x="0.000" y="0.000" font-family='"Liberation Serif", serif' font-size="9.000" fill="#000" stroke="#000" stroke-width="0.1"><tspan font-size="9.000">30.5</tspan></text></g><g transform="translate(240.350,474.524) scale(1.0000,1.0800)"><text x="0.000" y="0.000" font-family='"Liberation Serif", serif' font-size="9.000" fill="#000" stroke="#000" stroke-width="0.1"><tspan font-size="9.000">30</tspan></text></g><g transform="translate(233.600,487.002) scale(1.0000,1.0800)"><text x="0.000" y="0.000" font-family='"Liberation Serif", serif' font-size="9.000" fill="#000" stroke="#000" stroke-width="0.1"><tspan font-size="9.000">29.5</tspan></text></g><g transform="translate(252.200,497.402) scale(1.0000,1.0800)"><text x="0.000" y="0.000" font-family='"Liberation Serif", serif' font-size="9.000" fill="#000" stroke="#000" stroke-width="0.1"><tspan font-size="9.000">25</tspan></text></g><g transform="translate(300.900,497.402) scale(1.0000,1.0800)"><text x="0.000" y="0.000" font-family='"Liberation Serif", serif' font-size="9.000" fill="#000" stroke="#000" stroke-width="0.1"><tspan font-size="9.000">50</tspan></text></g><g transform="translate(349.600,497.402) scale(1.0000,1.0800)"><text x="0.000" y="0.000" font-family='"Liberation Serif", serif' font-size="9.000" fill="#000" stroke="#000" stroke-width="0.1"><tspan font-size="9.000">75</tspan></text></g><g transform="translate(395.625,497.402) scale(1.0000,1.0800)"><text x="0.000" y="0.000" font-family='"Liberation Serif", serif' font-size="9.000" fill="#000" stroke="#000" stroke-width="0.1"><tspan font-size="9.000">100</tspan></text></g><text x="285.700" y="511.600" font-family='"Liberation Serif", serif' font-size="10.045" fill="#000" stroke="#000" stroke-width="0.1"><tspan font-size="10.045">Water availability (%)</tspan></text><g transform="translate(318.645,362.600) scale(1.0231,1.0000)"><text x="0.000" y="0.000" font-family='"Liberation Serif", serif' font-size="8.900" fill="#000" stroke="#000" stroke-width="0.1"><tspan font-size="8.900">Mild</tspan></text></g><g transform="translate(348.338,362.600) scale(1.0384,1.0000)"><text x="0.000" y="0.000" font-family='"Liberation Serif", serif' font-size="8.900" fill="#000" stroke="#000" stroke-width="0.1"><tspan font-size="8.900">Hot</tspan></text></g><g transform="translate(297.700,410.300) scale(1.0000,1.1000)"><text x="0.000" y="0.000" font-family='"Liberation Serif", serif' font-size="9.258" fill="#000" stroke="#000" stroke-width="0.1"><tspan font-size="9.258">y=ȳ = 33.33</tspan></text></g><g transform="translate(309.100,426.700) scale(1.0000,1.1000)"><text x="0.000" y="0.000" font-family='"Liberation Serif", serif' font-size="8.940" fill="#000" stroke="#000" stroke-width="0.1"><tspan font-size="8.940">y = -0.0198x + 31.91</tspan></text></g><g transform="translate(323.452,437.000) scale(1.0000,1.1000)"><text x="0.000" y="0.000" font-family='"Liberation Serif", serif' font-size="8.957" fill="#000" stroke="#000" stroke-width="0.1"><tspan font-size="8.957">R</tspan><tspan font-size="5.554" dy="-2.956">2</tspan><tspan font-size="8.957" dy="2.956"> = 0.72**</tspan></text></g><text x="0" y="0" transform="translate(227.000,470.511) rotate(-90)" font-family='"Liberation Serif", serif' font-size="10.229" fill="#000" stroke="#000" stroke-width="0.1"><tspan font-size="10.229">Leaf temperature  (°C)</tspan></text><text x="112.635" y="533.400" font-family='"Liberation Serif", serif' font-size="9.300" font-weight="bold" fill="#000" stroke="#000" stroke-width="0.1"><tspan font-size="9.300">G</tspan></text><g transform="translate(127.450,550.502) scale(1.0000,1.0800)"><text x="0.000" y="0.000" font-family='"Liberation Serif", serif' font-size="9.000" fill="#000" stroke="#000" stroke-width="0.1"><tspan font-size="9.000">70</tspan></text></g><g transform="translate(127.450,566.416) scale(1.0000,1.0800)"><text x="0.000" y="0.000" font-family='"Liberation Serif", serif' font-size="9.000" fill="#000" stroke="#000" stroke-width="0.1"><tspan font-size="9.000">60</tspan></text></g><g transform="translate(127.450,582.331) scale(1.0000,1.0800)"><text x="0.000" y="0.000" font-family='"Liberation Serif", serif' font-size="9.000" fill="#000" stroke="#000" stroke-width="0.1"><tspan font-size="9.000">50</tspan></text></g><g transform="translate(127.450,598.245) scale(1.0000,1.0800)"><text x="0.000" y="0.000" font-family='"Liberation Serif", serif' font-size="9.000" fill="#000" stroke="#000" stroke-width="0.1"><tspan font-size="9.000">40</tspan></text></g><g transform="translate(127.450,614.159) scale(1.0000,1.0800)"><text x="0.000" y="0.000" font-family='"Liberation Serif", serif' font-size="9.000" fill="#000" stroke="#000" stroke-width="0.1"><tspan font-size="9.000">30</tspan></text></g><g transform="translate(127.450,630.073) scale(1.0000,1.0800)"><text x="0.000" y="0.000" font-family='"Liberation Serif", serif' font-size="9.000" fill="#000" stroke="#000" stroke-width="0.1"><tspan font-size="9.000">20</tspan></text></g><g transform="translate(127.450,645.988) scale(1.0000,1.0800)"><text x="0.000" y="0.000" font-family='"Liberation Serif", serif' font-size="9.000" fill="#000" stroke="#000" stroke-width="0.1"><tspan font-size="9.000">10</tspan></text></g><g transform="translate(131.950,661.902) scale(1.0000,1.0800)"><text x="0.000" y="0.000" font-family='"Liberation Serif", serif' font-size="9.000" fill="#000" stroke="#000" stroke-width="0.1"><tspan font-size="9.000">0</tspan></text></g><g transform="translate(139.900,672.402) scale(1.0000,1.0800)"><text x="0.000" y="0.000" font-family='"Liberation Serif", serif' font-size="9.000" fill="#000" stroke="#000" stroke-width="0.1"><tspan font-size="9.000">25</tspan></text></g><g transform="translate(192.700,672.402) scale(1.0000,1.0800)"><text x="0.000" y="0.000" font-family='"Liberation Serif", serif' font-size="9.000" fill="#000" stroke="#000" stroke-width="0.1"><tspan font-size="9.000">50</tspan></text></g><g transform="translate(246.100,672.402) scale(1.0000,1.0800)"><text x="0.000" y="0.000" font-family='"Liberation Serif", serif' font-size="9.000" fill="#000" stroke="#000" stroke-width="0.1"><tspan font-size="9.000">75</tspan></text></g><g transform="translate(296.025,672.402) scale(1.0000,1.0800)"><text x="0.000" y="0.000" font-family='"Liberation Serif", serif' font-size="9.000" fill="#000" stroke="#000" stroke-width="0.1"><tspan font-size="9.000">100</tspan></text></g><text x="181.100" y="684.700" font-family='"Liberation Serif", serif' font-size="9.977" fill="#000" stroke="#000" stroke-width="0.1"><tspan font-size="9.977">Water availability(%)</tspan></text><g transform="translate(205.721,530.600) scale(1.0763,1.0000)"><text x="0.000" y="0.000" font-family='"Liberation Serif", serif' font-size="8.900" fill="#000" stroke="#000" stroke-width="0.1"><tspan font-size="8.900">Mild</tspan></text></g><g transform="translate(235.503,530.600) scale(1.1158,1.0000)"><text x="0.000" y="0.000" font-family='"Liberation Serif", serif' font-size="8.900" fill="#000" stroke="#000" stroke-width="0.1"><tspan font-size="8.900">Hot</tspan></text></g><g transform="translate(175.300,599.600) scale(1.0000,1.1000)"><text x="0.000" y="0.000" font-family='"Liberation Serif", serif' font-size="8.953" fill="#000" stroke="#000" stroke-width="0.1"><tspan font-size="8.953">ŷ = ŷ = 56.18</tspan></text></g><g transform="translate(173.200,623.600) scale(1.0000,1.1000)"><text x="0.000" y="0.000" font-family='"Liberation Serif", serif' font-size="8.897" fill="#000" stroke="#000" stroke-width="0.1"><tspan font-size="8.897">y = -0.0054x</tspan><tspan font-size="5.516" dy="-2.936">2</tspan><tspan font-size="8.897" dy="2.936"> + 0.591x + 43.629</tspan></text></g><g transform="translate(207.367,633.900) scale(1.0000,1.1000)"><text x="0.000" y="0.000" font-family='"Liberation Serif", serif' font-size="8.660" fill="#000" stroke="#000" stroke-width="0.1"><tspan font-size="8.660">R</tspan><tspan font-size="5.369" dy="-2.858">2</tspan><tspan font-size="8.660" dy="2.858"> = 0.95**</tspan></text></g><text x="0" y="0" transform="translate(120.200,635.900) rotate(-90)" font-family='"Liberation Serif", serif' font-size="10.000" fill="#000" stroke="#000" stroke-width="0.1"><tspan font-size="10.000">Total chlorophyll</tspan></text></g></svg></body></html>
